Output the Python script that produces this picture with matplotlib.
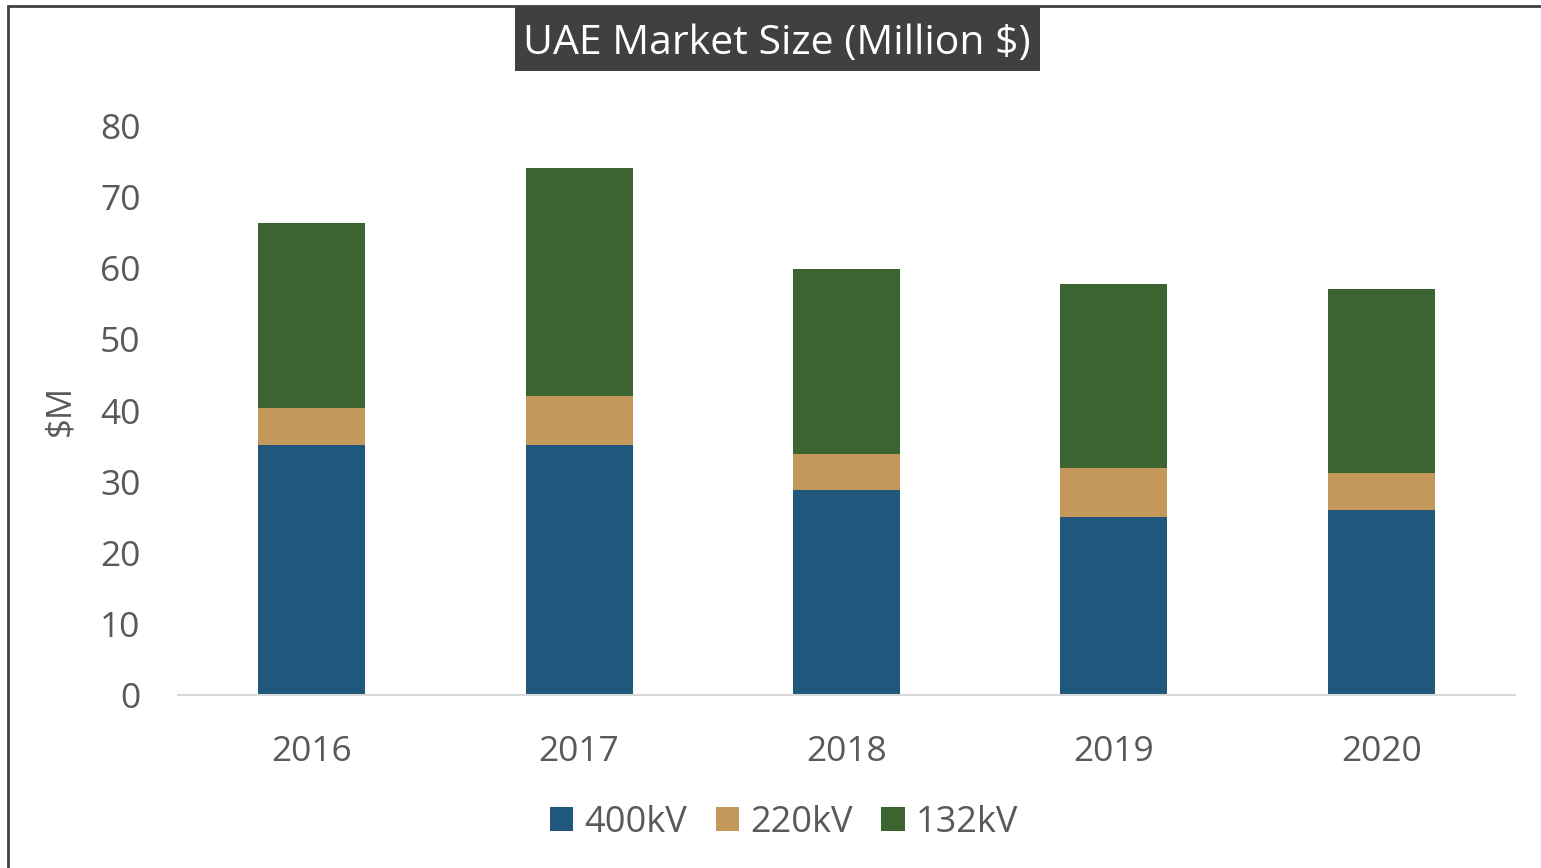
import matplotlib.pyplot as plt
from matplotlib.patches import Rectangle
import numpy as np

plt.rcParams['font.family'] = ['Open Sans', 'DejaVu Sans']

years = ["2016", "2017", "2018", "2019", "2020"]
kv400 = [35.2, 35.2, 28.8, 25.0, 26.0]
kv220 = [5.2, 6.8, 5.1, 6.9, 5.2]
kv132 = [26.0, 32.1, 26.0, 25.9, 25.9]

c400 = "#1F587C"
c220 = "#C4975A"
c132 = "#3C6431"
txt = "#595959"

W, H = 1541, 868
fig = plt.figure(figsize=(W / 100, H / 100), dpi=100)
ax = fig.add_axes([178 / W, 1 - 695 / H, (1515 - 178) / W, (695 - 126) / H])

x = np.arange(len(years))
b1 = np.array(kv400)
b2 = b1 + np.array(kv220)
ax.bar(x, kv400, width=0.4, color=c400, label="400kV")
ax.bar(x, kv220, width=0.4, bottom=b1, color=c220, label="220kV")
ax.bar(x, kv132, width=0.4, bottom=b2, color=c132, label="132kV")

ax.set_xlim(-0.5, 4.5)
ax.set_ylim(0, 80)
ax.set_yticks(range(0, 81, 10))
ax.set_xticks(x)
ax.set_xticklabels(years)
ax.tick_params(axis="both", length=0, labelsize=25.5, labelcolor=txt)
ax.tick_params(axis="y", pad=27)
ax.tick_params(axis="x", pad=29)
for s in ["top", "right", "left"]:
    ax.spines[s].set_visible(False)
ax.spines["bottom"].set_color("#D9D9D9")
ax.spines["bottom"].set_linewidth(1.5)

ax.set_ylabel("$M", fontsize=25, color=txt)
ax.yaxis.set_label_coords(-0.075, 0.5)

leg = fig.legend(loc="center", bbox_to_anchor=(784 / W, 1 - 823 / H), ncol=3,
                 frameon=False, fontsize=26, labelcolor=txt, handlelength=0.65,
                 handleheight=0.65, handletextpad=0.3, columnspacing=0.8)

# title box
fig.patches.append(Rectangle((515 / W, 1 - 71 / H), (1040 - 515) / W, 64 / H,
                             transform=fig.transFigure, facecolor="#404040",
                             edgecolor="none", zorder=1))
fig.text(777 / W, 1 - 44 / H, "UAE Market Size (Million $)", ha="center", va="center",
         fontsize=29.5, color="white", zorder=2)

# outer frame
fig.patches.append(Rectangle((8 / W, -0.1), 1.2, 1 - 6 / H + 0.1, transform=fig.transFigure,
                             fill=False, edgecolor="#404040", linewidth=2))

fig.savefig("out.png", dpi=100)
